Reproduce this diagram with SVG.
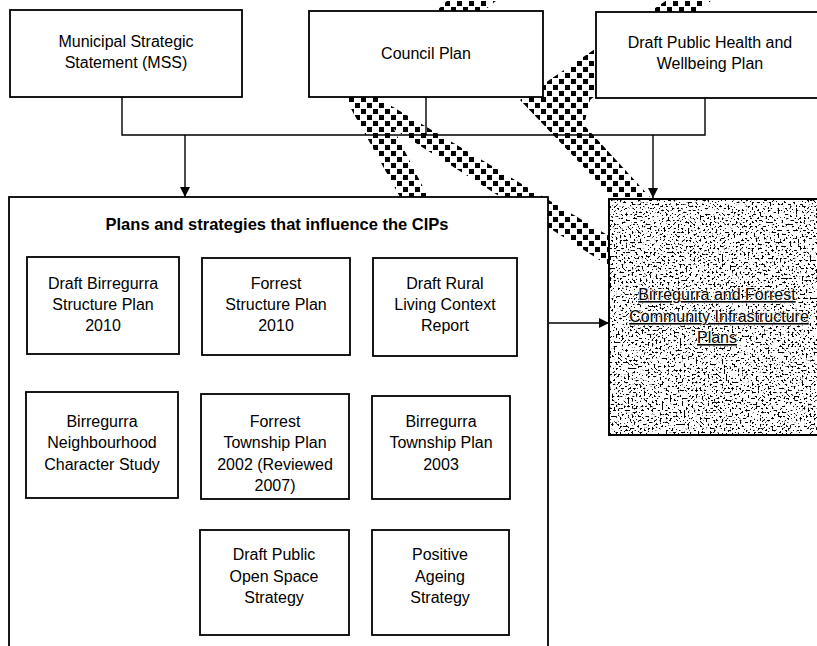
<svg xmlns="http://www.w3.org/2000/svg" width="817" height="646" viewBox="0 0 817 646">
<style>
.box{fill:#fff;stroke:#000;stroke-width:1.8}
.t{font-family:"Liberation Sans",Arial,sans-serif;font-size:16px;fill:#000;text-anchor:middle}
.title{font-family:"Liberation Sans",Arial,sans-serif;font-size:16.5px;font-weight:bold;fill:#000;text-anchor:middle}
.halo{stroke:#fff;stroke-width:1.6;paint-order:stroke;stroke-linejoin:round}
.ln{fill:none;stroke:#000;stroke-width:1.4}
.band{fill:url(#chk)}
</style>
<defs>
<pattern id="chk" width="12" height="12" patternUnits="userSpaceOnUse">
<rect width="12" height="12" fill="#fff"/>
<rect x="1" y="1" width="5" height="5" fill="#000"/>
<rect x="7" y="7" width="5" height="5" fill="#000"/>
</pattern>
<marker id="ah" viewBox="0 0 10 10" refX="10" refY="5" markerWidth="10" markerHeight="10" markerUnits="userSpaceOnUse" orient="auto">
<path d="M0,0 L10,5 L0,10 z" fill="#000"/>
</marker>
<filter id="speckle" x="0" y="0" width="1" height="1">
<feTurbulence type="fractalNoise" baseFrequency="0.5" numOctaves="4" seed="11" result="n"/>
<feColorMatrix in="n" type="matrix" values="0 0 0 0 0  0 0 0 0 0  0 0 0 0 0  14 0 0 0 -7.9" result="d"/>
<feFlood flood-color="#fff" result="w"/>
<feMerge><feMergeNode in="w"/><feMergeNode in="d"/></feMerge>
</filter>
</defs>

<g id="bands">
<polygon class="band" points="345,98 378,98 497,0 448,0"/>
<polygon class="band" points="345,98 378,98 428,197 400,197"/>
<polygon class="band" points="345,98 378,98 609,236 609,266"/>
<polygon class="band" points="520,100 667,0 712,0 590,100 584,125 650,197 612,197"/>
</g>

<g id="connectors">
<path class="ln" d="M122,97 V135 H705 V98"/>
<path class="ln" d="M426,97 V135"/>
<path class="ln" d="M185,135 V197" marker-end="url(#ah)"/>
<path class="ln" d="M653,135 V198" marker-end="url(#ah)"/>
<path class="ln" d="M549,323 H609" marker-end="url(#ah)"/>
<path class="ln" style="stroke-width:2" d="M96,354 V392" marker-end="url(#ah)"/>
</g>

<g id="mss">
<rect class="box" x="10" y="10" width="232" height="87"/>
<text class="t" x="126" y="47">Municipal Strategic</text>
<text class="t" x="126" y="68">Statement (MSS)</text>
</g>

<g id="council">
<rect class="box" x="309" y="11" width="234" height="86"/>
<text class="t" x="426" y="59">Council Plan</text>
</g>

<g id="health">
<rect class="box" x="596" y="12" width="224" height="86"/>
<text class="t" x="710" y="48">Draft Public Health and</text>
<text class="t" x="710" y="69">Wellbeing Plan</text>
</g>

<g id="plans-group">
<rect class="box" x="9" y="197" width="539" height="460"/>
<text class="title" x="277" y="230">Plans and strategies that influence the CIPs</text>
</g>

<g id="draft-birregurra">
<rect class="box" x="27" y="257" width="152" height="97"/>
<text class="t" x="103" y="289">Draft Birregurra</text>
<text class="t" x="103" y="310">Structure Plan</text>
<text class="t" x="103" y="331">2010</text>
</g>

<g id="forrest-structure">
<rect class="box" x="202" y="258" width="148" height="97"/>
<text class="t" x="276" y="289">Forrest</text>
<text class="t" x="276" y="310">Structure Plan</text>
<text class="t" x="276" y="331">2010</text>
</g>

<g id="draft-rural">
<rect class="box" x="373" y="258" width="144" height="98"/>
<text class="t" x="445" y="289">Draft Rural</text>
<text class="t" x="445" y="310">Living Context</text>
<text class="t" x="445" y="331">Report</text>
</g>

<g id="birregurra-neighbourhood">
<rect class="box" x="26" y="392" width="152" height="106"/>
<text class="t" x="102" y="427">Birregurra</text>
<text class="t" x="102" y="448">Neighbourhood</text>
<text class="t" x="102" y="470">Character Study</text>
</g>

<g id="forrest-township">
<rect class="box" x="201" y="394" width="148" height="105"/>
<text class="t" x="275" y="427">Forrest</text>
<text class="t" x="275" y="448">Township Plan</text>
<text class="t" x="275" y="470">2002 (Reviewed</text>
<text class="t" x="275" y="491">2007)</text>
</g>

<g id="birregurra-township">
<rect class="box" x="372" y="396" width="138" height="103"/>
<text class="t" x="441" y="427">Birregurra</text>
<text class="t" x="441" y="448">Township Plan</text>
<text class="t" x="441" y="470">2003</text>
</g>

<g id="open-space">
<rect class="box" x="200" y="530" width="149" height="105"/>
<text class="t" x="274" y="560">Draft Public</text>
<text class="t" x="274" y="582">Open Space</text>
<text class="t" x="274" y="603">Strategy</text>
</g>

<g id="positive-ageing">
<rect class="box" x="372" y="530" width="137" height="105"/>
<text class="t" x="440" y="560">Positive</text>
<text class="t" x="440" y="582">Ageing</text>
<text class="t" x="440" y="603">Strategy</text>
</g>

<g id="cip">
<rect x="609" y="199" width="210" height="236" fill="#fff" filter="url(#speckle)"/>
<rect x="609" y="199" width="210" height="236" fill="none" stroke="#000" stroke-width="2"/>
<text class="t halo" x="717" y="300" text-decoration="underline">Birregurra and Forrest</text>
<text class="t halo" x="719" y="322" text-decoration="underline">Community Infrastructure</text>
<text class="t halo" x="717" y="343" text-decoration="underline">Plans</text>
</g>
</svg>
